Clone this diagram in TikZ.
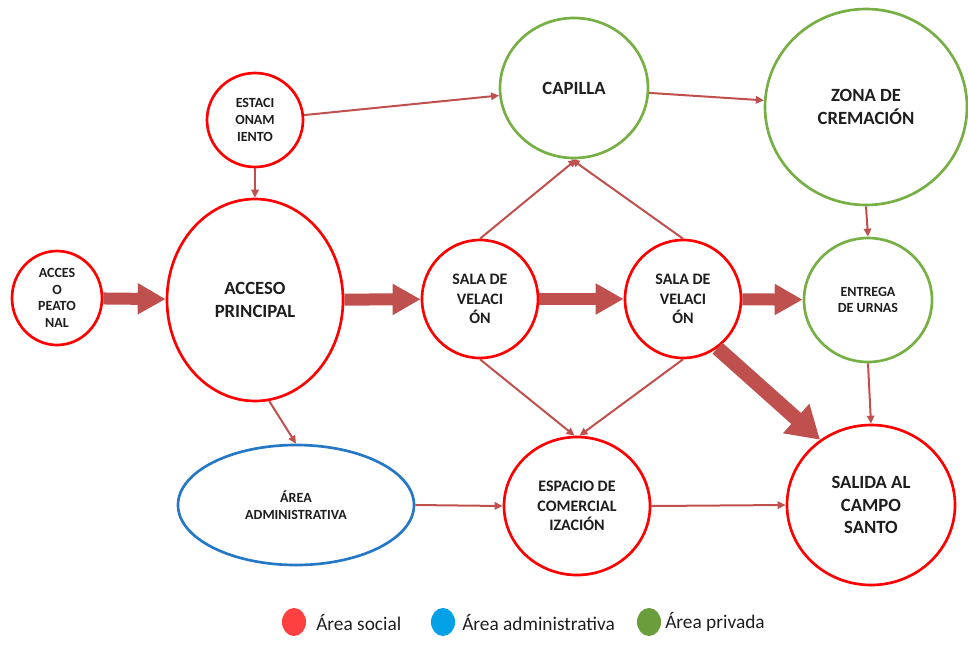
\documentclass[tikz,border=0pt]{standalone}
\usepackage{fontspec}
\setmainfont{Carlito}
\usetikzlibrary{shapes.geometric,arrows.meta}
\definecolor{socialred}{HTML}{FF0000}
\definecolor{adminblue}{HTML}{2478C6}
\definecolor{privgreen}{HTML}{76AF43}
\definecolor{arrowred}{HTML}{C0504D}
\definecolor{textgray}{HTML}{1E1E1E}
\tikzset{
  area/.style n args={2}{ellipse, line width=2pt, fill=white, align=center, inner sep=0pt,
    text=textgray, minimum width=#1*1.5pt, minimum height=#2*1.5pt},
  social/.style={draw=socialred},
  admin/.style={draw=adminblue},
  private/.style={draw=privgreen},
  small/.style={font=\bfseries\fontsize{10.5}{12.6}\selectfont},
  medium/.style={font=\bfseries\fontsize{12}{14.6}\selectfont},
  large/.style={font=\bfseries\fontsize{14}{16.6}\selectfont},
  flow/.style={draw=arrowred, line width=1.5pt, -{Triangle[length=6pt,width=5.5pt]}},
  bigflow/.style={draw=arrowred, line width=9pt, -{Triangle[length=21pt,width=22pt]}},
  legendtext/.style={anchor=west, inner sep=0pt, text=textgray, font=\fontsize{14.5}{17}\selectfont}
}
\begin{document}
\begin{tikzpicture}[x=0.75pt,y=-0.75pt]
\useasboundingbox (0,0) rectangle (968,644);

\node[area={45}{47}, social, small] (peatonal) at (57,298) {ACCES\\O\\PEATO\\NAL};
\node[area={48}{47}, social, small] (estac) at (255,120) {ESTACI\\ONAM\\IENTO};
\node[area={88}{101}, social, large] (principal) at (255,300) {ACCESO\\PRINCIPAL};
\node[area={74}{70}, private, large] (capilla) at (574,88) {CAPILLA};
\node[area={101}{98}, private, large] (zona) at (866,107) {ZONA DE\\CREMACIÓN};
\node[area={58}{59}, social, medium] (sala1) at (480,299) {SALA DE\\VELACI\\ÓN};
\node[area={58}{59}, social, medium] (sala2) at (683,299) {SALA DE\\VELACI\\ÓN};
\node[area={64}{62}, private, small] (entrega) at (868,300) {ENTREGA\\DE URNAS};
\node[area={84}{80}, social, large] (salida) at (871,505) {SALIDA AL\\CAMPO\\SANTO};
\node[area={118}{60}, admin, small] (adm) at (296,505) {ÁREA\\ADMINISTRATIVA};
\node[area={73}{69}, social, medium] (espacio) at (577,506) {ESPACIO DE\\COMERCIAL\\IZACIÓN};

\draw[flow] (estac) -- (capilla);
\draw[flow] (estac.south) -- (principal.north);
\draw[flow] (capilla) -- (zona);
\draw[flow] (sala1.north) -- (capilla.272);
\draw[flow] (sala2.north) -- (capilla.268);
\draw[flow] (sala1.south) -- (espacio.92);
\draw[flow] (sala2.south) -- (espacio.88);
\draw[flow] (principal.278) -- (adm.north);
\draw[flow] (adm.east) -- (espacio.west);
\draw[flow] (espacio.east) -- (salida.west);
\draw[flow] (zona.south) -- (entrega.north);
\draw[flow] (entrega.south) -- (salida.north);

\draw[bigflow] (peatonal) -- (principal);
\draw[bigflow] (principal) -- (sala1);
\draw[bigflow] (sala1) -- (sala2);
\draw[bigflow] (sala2) -- (entrega);
\draw[bigflow, line width=11pt, -{Triangle[length=24pt,width=28pt]}] (sala2.305) -- (salida.128);

\node[ellipse, fill=socialred!75, minimum width=18pt, minimum height=21pt, inner sep=0pt] (keysocial) at (294,622) {};
\node[legendtext] (txtsocial) at (316,622) {Área social};
\node[ellipse, fill=cyan!90!blue, minimum width=18pt, minimum height=21pt, inner sep=0pt] (keyadmin) at (443,622) {};
\node[legendtext] (txtadmin) at (462,622) {Área administrativa};
\node[ellipse, fill=privgreen!90!black, minimum width=18pt, minimum height=21pt, inner sep=0pt] (keyprivate) at (649,622) {};
\node[legendtext] (txtprivate) at (665,622) {Área privada};
\end{tikzpicture}
\end{document}
